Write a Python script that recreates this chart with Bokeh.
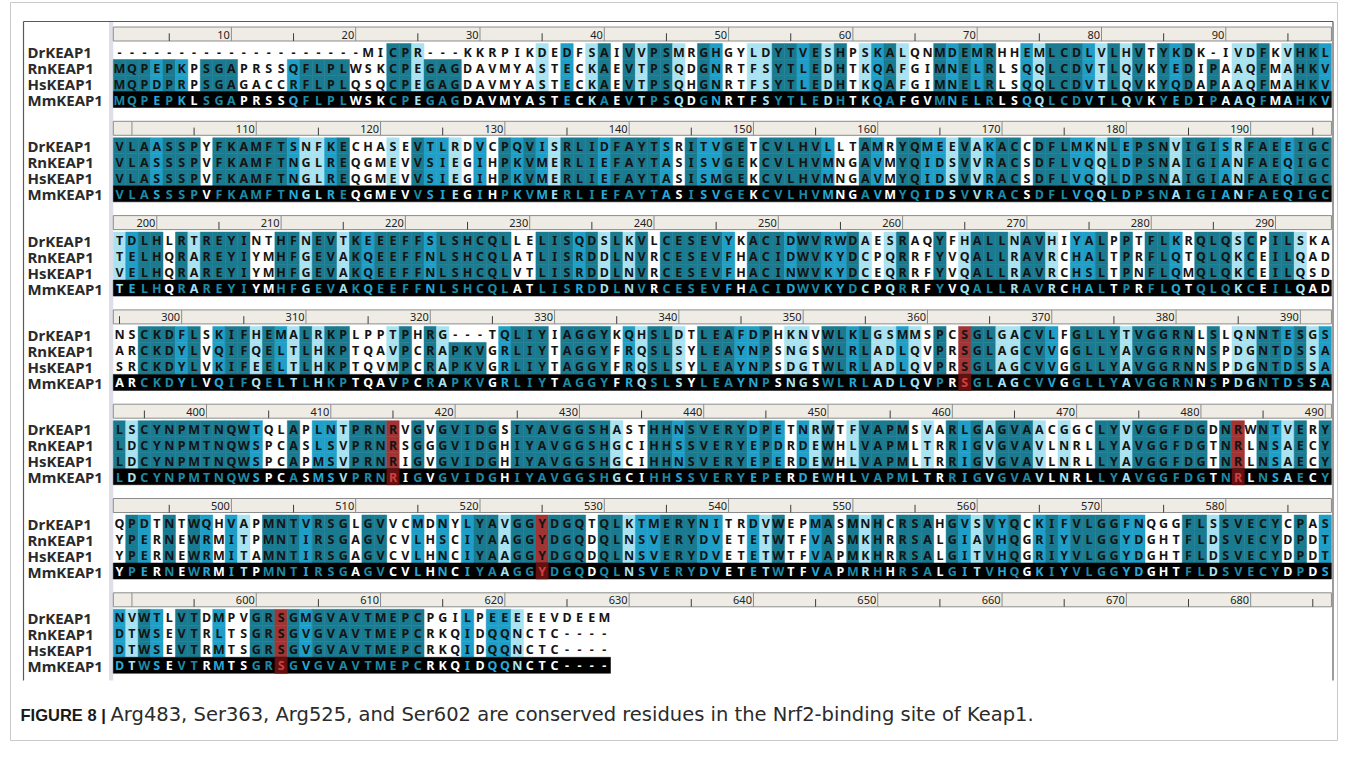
from collections import Counter
from bokeh.plotting import figure
from bokeh.models import Range1d, ColumnDataSource
from bokeh.core.properties import value
from bokeh.embed import file_html
from bokeh.resources import INLINE

# ---------------- data ----------------
species = ["DrKEAP1", "RnKEAP1", "HsKEAP1", "MmKEAP1"]

dr_blocks = [
    "--------------------MICPR---KKRPIKDEDFSAIVVPSMRGHGYLDYTVESHPSKALQNMDEMRHHEMLCDLVLHVTYKDK-IVDFKVHKL",
    "VLAASSPYFKAMFTSNFKECHASEVTLRDVCPQVISRLIDFAYTSRITVGETCVLHVLLTAMRYQMEEVAKACCDFLMKNLEPSNVIGISRFAEEIGC",
    "TDLHLRTREYINTHFNEVTKEEEFFSLSHCQLLELISQDSLKVLCESEVYKACIDWVRWDAESRAQYFHALLNAVHIYALPPTFLKRQLQSCPILSKA",
    "NSCKDFLSKIFHEMALRKPLPPTPHRG---TQLIYIAGGYKQHSLDTLEAFDPHKNVWLKLGSMMSPCSGLGACVLFGLLYTVGGRNLSLQNNTESGS",
    "LSCYNPMTNQWTQLAPLNTPRNRVGVGVIDGSIYAVGGSHASTHHNSVERYDPETNRWTFVAPMSVARLGAGVAACGGCLYVVGGFDGDNRWNTVERY",
    "QPDTNTWQHVAPMNTVRSGLGVVCMDNYLYAVGGYDGQTQLKTMERYNITRDVWEPMASMNHCRSAHGVSVYQCKIFVLGGFNQGGFLSSVECYCPAS",
    "NVWTLVTDMPVGRSGMGVAVTMEPCPGILPEEEEEVDEEM",
]
rn_blocks = [
    "MQPEPKPSGAPRSSQFLPLWSKCPEGAGDAVMYASTECKAEVTPSQDGNRTFSYTLEDHTKQAFGIMNELRLSQQLCDVTLQVKYEDIPAAQFMAHKV",
    "VLASSSPVFKAMFTNGLREQGMEVVSIEGIHPKVMERLIEFAYTASISVGEKCVLHVMNGAVMYQIDSVVRACSDFLVQQLDPSNAIGIANFAEQIGC",
    "TELHQRAREYIYMHFGEVAKQEEFFNLSHCQLATLISRDDLNVRCESEVFHACIDWVKYDCPQRRFYVQALLRAVRCHALTPRFLQTQLQKCEILQAD",
    "ARCKDYLVQIFQELTLHKPTQAVPCRAPKVGRLIYTAGGYFRQSLSYLEAYNPSNGSWLRLADLQVPRSGLAGCVVGGLLYAVGGRNNSPDGNTDSSA",
    "LDCYNPMTNQWSPCASLSVPRNRSGGGVIDGHIYAVGGSHGCIHHSSVERYEPDRDEWHLVAPMLTRRIGVGVAVLNRLLYAVGGFDGTNRLNSAECY",
    "YPERNEWRMITPMNTIRSGAGVCVLHSCIYAAGGYDGQDQLNSVERYDVETETWTFVASMKHRRSALGIAVHQGRIYVLGGYDGHTFLDSVECYDPDT",
    "DTWSEVTRLTSGRSGVGVAVTMEPCRKQIDQQNCTC----",
]
hs_blocks = [
    "MQPDPRPSGAGACCRFLPLQSQCPEGAGDAVMYASTECKAEVTPSQHGNRTFSYTLEDHTKQAFGIMNELRLSQQLCDVTLQVKYQDAPAAQFMAHKV",
    "VLASSSPVFKAMFTNGLREQGMEVVSIEGIHPKVMERLIEFAYTASISMGEKCVLHVMNGAVMYQIDSVVRACSDFLVQQLDPSNAIGIANFAEQIGC",
    "VELHQRAREYIYMHFGEVAKQEEFFNLSHCQLVTLISRDDLNVRCESEVFHACINWVKYDCEQRRFYVQALLRAVRCHSLTPNFLQMQLQKCEILQSD",
    "SRCKDYLVKIFEELTLHKPTQVMPCRAPKVGRLIYTAGGYFRQSLSYLEAYNPSDGTWLRLADLQVPRSGLAGCVVGGLLYAVGGRNNSPDGNTDSSA",
    "LDCYNPMTNQWSPCAPMSVPRNRIGVGVIDGHIYAVGGSHGCIHHNSVERYEPERDEWHLVAPMLTRRIGVGVAVLNRLLYAVGGFDGTNRLNSAECY",
    "YPERNEWRMITAMNTIRSGAGVCVLHNCIYAAGGYDGQDQLNSVERYDVETETWTFVAPMKHRRSALGITVHQGRIYVLGGYDGHTFLDSVECYDPDT",
    "DTWSEVTRMTSGRSGVGVAVTMEPCRKQIDQQNCTC----",
]
mm_blocks = [
    "MQPEPKLSGAPRSSQFLPLWSKCPEGAGDAVMYASTECKAEVTPSQDGNRTFSYTLEDHTKQAFGVMNELRLSQQLCDVTLQVKYEDIPAAQFMAHKV",
    "VLASSSPVFKAMFTNGLREQGMEVVSIEGIHPKVMERLIEFAYTASISVGEKCVLHVMNGAVMYQIDSVVRACSDFLVQQLDPSNAIGIANFAEQIGC",
    "TELHQRAREYIYMHFGEVAKQEEFFNLSHCQLATLISRDDLNVRCESEVFHACIDWVKYDCPQRRFYVQALLRAVRCHALTPRFLQTQLQKCEILQAD",
    "ARCKDYLVQIFQELTLHKPTQAVPCRAPKVGRLIYTAGGYFRQSLSYLEAYNPSNGSWLRLADLQVPRSGLAGCVVGGLLYAVGGRNNSPDGNTDSSA",
    "LDCYNPMTNQWSPCASMSVPRNRIGVGVIDGHIYAVGGSHGCIHHSSVERYEPERDEWHLVAPMLTRRIGVGVAVLNRLLYAVGGFDGTNRLNSAECY",
    "YPERNEWRMITPMNTIRSGAGVCVLHNCIYAAGGYDGQDQLNSVERYDVETETWTFVAPMRHHRSALGITVHQGKIYVLGGYDGHTFLDSVECYDPDS",
    "DTWSEVTRMTSGRSGVGVAVTMEPCRKQIDQQNCTC----",
]
highlight_cols = [363, 415, 483, 525, 602]
caption_bold = "FIGURE 8 |"
caption_text = "Arg483, Ser363, Arg525, and Ser602 are conserved residues in the Nrf2-binding site of Keap1."

# BLOSUM62 (used to grade the shading of each column)
AA = "ARNDCQEGHILKMFPSTWYV"
B62 = [
    [4, -1, -2, -2, 0, -1, -1, 0, -2, -1, -1, -1, -1, -2, -1, 1, 0, -3, -2, 0],
    [-1, 5, 0, -2, -3, 1, 0, -2, 0, -3, -2, 2, -1, -3, -2, -1, -1, -3, -2, -3],
    [-2, 0, 6, 1, -3, 0, 0, 0, 1, -3, -3, 0, -2, -3, -2, 1, 0, -4, -2, -3],
    [-2, -2, 1, 6, -3, 0, 2, -1, -1, -3, -4, -1, -3, -3, -1, 0, -1, -4, -3, -3],
    [0, -3, -3, -3, 9, -3, -4, -3, -3, -1, -1, -3, -1, -2, -3, -1, -1, -2, -2, -1],
    [-1, 1, 0, 0, -3, 5, 2, -2, 0, -3, -2, 1, 0, -3, -1, 0, -1, -2, -1, -2],
    [-1, 0, 0, 2, -4, 2, 5, -2, 0, -3, -3, 1, -2, -3, -1, 0, -1, -3, -2, -2],
    [0, -2, 0, -1, -3, -2, -2, 6, -2, -4, -4, -2, -3, -3, -2, 0, -2, -2, -3, -3],
    [-2, 0, 1, -1, -3, 0, 0, -2, 8, -3, -3, -1, -2, -1, -2, -1, -2, -2, 2, -3],
    [-1, -3, -3, -3, -1, -3, -3, -4, -3, 4, 2, -3, 1, 0, -3, -2, -1, -3, -1, 3],
    [-1, -2, -3, -4, -1, -2, -3, -4, -3, 2, 4, -2, 2, 0, -3, -2, -1, -2, -1, 1],
    [-1, 2, 0, -1, -3, 1, 1, -2, -1, -3, -2, 5, -1, -3, -1, 0, -1, -3, -2, -2],
    [-1, -1, -2, -3, -1, 0, -2, -3, -2, 1, 2, -1, 5, 0, -2, -1, -1, -1, -1, 1],
    [-2, -3, -3, -3, -2, -3, -3, -3, -1, 0, 0, -3, 0, 6, -4, -2, -2, 1, 3, -1],
    [-1, -2, -2, -1, -3, -1, -1, -2, -2, -3, -3, -1, -2, -4, 7, -1, -1, -4, -3, -2],
    [1, -1, 1, 0, -1, 0, 0, 0, -1, -2, -2, 0, -1, -2, -1, 4, 1, -3, -2, -2],
    [0, -1, 0, -1, -1, -1, -1, -2, -2, -1, -1, -1, -1, -2, -1, 1, 5, -2, -2, 0],
    [-3, -3, -4, -4, -2, -2, -3, -2, -2, -3, -2, -3, -1, 1, -4, -3, -2, 11, 2, -3],
    [-2, -2, -2, -3, -2, -1, -2, -3, 2, -1, -1, -2, -1, 3, -3, -2, -2, 2, 7, -1],
    [0, -3, -3, -3, -1, -2, -2, -3, -3, 3, 1, -2, 1, -1, -2, -2, 0, -3, -1, 4],
]


def blosum(a, b):
    return B62[AA.index(a)][AA.index(b)]


def column_level(residues):
    res = [r for r in residues if r != "-"]
    if len(res) < 2:
        return 0
    cons, k = Counter(res).most_common(1)[0]
    if k == len(res):
        return 3
    m = min(blosum(r, cons) for r in res if r != cons)
    if m >= 1:
        return 2
    if m == 0:
        return 1
    return 0


# ---------------- style / layout ----------------
BG = {1: "#a9e3f1", 2: "#1f9fc7", 3: "#1a7b90"}
MM_TXT = {0: "#ffffff", 1: "#a9e3f1", 2: "#26a9d9", 3: "#1d8aa6"}
RED_BG = "#a23434"
RED_BG_MM = "#641010"
RED_TXT_MM = "#d04040"

W, H = 1341, 742
CW = 12.43
SEQ_X0 = 120.8
N_COLS = 98
BLOCK_T0 = 34.5
BLOCK_PITCH = 94.3
RULER_H = 14.0
ROW_OFF = 16.5
ROW_H = 16.0
NAME_X = 35
FONT = "Noto Sans"


def block_top(b):
    return BLOCK_T0 + b * BLOCK_PITCH


def row_top(b, r):
    return block_top(b) + ROW_OFF + r * ROW_H


def col_left(j):
    return SEQ_X0 + j * CW


p = figure(width=W, height=H, x_range=Range1d(8, 8 + W), y_range=Range1d(8 + H, 8),
           output_backend="svg", toolbar_location=None, min_border=0)
p.axis.visible = False
p.grid.visible = False
p.outline_line_color = None
p.background_fill_color = "white"

# outer figure frame and screenshot panel edges
p.quad(left=[18], right=[1345], top=[10], bottom=[748], fill_alpha=0,
       line_color="#c9c9c9", line_width=1)
panel_bottom = 688
p.segment(x0=[31, 31, 1340.5], y0=[29, 29, 29], x1=[1340.5, 31, 1340.5],
          y1=[29, panel_bottom, panel_bottom], line_color="#5a5a5a", line_width=1.2)
p.quad(left=[116.5], right=[SEQ_X0], top=[29.5], bottom=[panel_bottom],
       fill_color="#dfdfe9", line_color=None)

cells = dict(l=[], r=[], t=[], b=[], c=[])
letters = dict(x=[], y=[], t=[], c=[])
mm_bg = dict(l=[], r=[], t=[], b=[], c=[])
names = dict(x=[], y=[], t=[])
ruler_bg = dict(l=[], r=[], t=[], b=[])
majors = dict(x0=[], y0=[], x1=[], y1=[])
minors = dict(x0=[], y0=[], x1=[], y1=[])
rlabels = dict(x=[], y=[], t=[])

rows_all = [dr_blocks, rn_blocks, hs_blocks, mm_blocks]

for b in range(len(dr_blocks)):
    seqs = [blk[b] for blk in rows_all]
    L = max(len(s) for s in seqs)
    seqs = [s.ljust(L, "-") for s in seqs]
    start = b * N_COLS + 1
    top = block_top(b)
    # ruler
    ruler_bg["l"].append(col_left(0))
    ruler_bg["r"].append(col_left(N_COLS))
    ruler_bg["t"].append(top)
    ruler_bg["b"].append(top + RULER_H)
    for j in range(N_COLS):
        a = start + j
        xc = col_left(j) + CW / 2
        if a % 10 == 0:
            majors["x0"].append(xc); majors["x1"].append(xc)
            majors["y0"].append(top); majors["y1"].append(top + RULER_H)
            if j >= 2:
                rlabels["x"].append(xc - 1.5)
                rlabels["y"].append(top + RULER_H / 2 + 0.5)
                rlabels["t"].append(str(a))
        elif a % 5 == 0:
            minors["x0"].append(xc); minors["x1"].append(xc)
            minors["y0"].append(top + RULER_H * 0.45); minors["y1"].append(top + RULER_H)
    # names
    for r, nm in enumerate(species):
        names["x"].append(NAME_X)
        names["y"].append(row_top(b, r) + ROW_H / 2 + 0.5)
        names["t"].append(nm)
    # Mm row black band
    mm_bg["l"].append(col_left(0)); mm_bg["r"].append(col_left(L))
    mm_bg["t"].append(row_top(b, 3)); mm_bg["b"].append(row_top(b, 3) + ROW_H)
    mm_bg["c"].append("#000000")
    # columns
    for j in range(L):
        a = start + j
        col = [s[j] for s in seqs]
        lvl = column_level(col)
        red = a in highlight_cols
        xc = col_left(j) + CW / 2
        for r in range(4):
            yt = row_top(b, r)
            gap = col[r] == "-"
            if r < 3:
                fill = None if gap else (RED_BG if red else BG.get(lvl))
                if fill:
                    cells["l"].append(col_left(j)); cells["r"].append(col_left(j + 1))
                    cells["t"].append(yt); cells["b"].append(yt + ROW_H)
                    cells["c"].append(fill)
                tc = "#141414"
            else:
                if red:
                    mm_bg["l"].append(col_left(j)); mm_bg["r"].append(col_left(j + 1))
                    mm_bg["t"].append(yt); mm_bg["b"].append(yt + ROW_H)
                    mm_bg["c"].append(RED_BG_MM)
                    tc = RED_TXT_MM
                else:
                    tc = "#ffffff" if gap else MM_TXT[lvl]
            letters["x"].append(xc)
            letters["y"].append(yt + ROW_H / 2 + 0.5)
            letters["t"].append(col[r])
            letters["c"].append(tc)

p.quad(left="l", right="r", top="t", bottom="b", source=ColumnDataSource(ruler_bg),
       fill_color="#eeece4", line_color="#8c8c8c", line_width=1)
p.segment(x0="x0", y0="y0", x1="x1", y1="y1", source=ColumnDataSource(majors),
          line_color="#8c8c8c", line_width=1)
p.segment(x0="x0", y0="y0", x1="x1", y1="y1", source=ColumnDataSource(minors),
          line_color="#3c3c3c", line_width=1)
p.text(x="x", y="y", text="t", source=ColumnDataSource(rlabels), text_align="right",
       text_baseline="middle", text_font=value(FONT), text_font_size="11px",
       text_color="#222222")

p.quad(left="l", right="r", top="t", bottom="b", fill_color="c", line_color="c",
       line_width=0.5, source=ColumnDataSource(cells))
p.quad(left="l", right="r", top="t", bottom="b", fill_color="c", line_color="c",
       line_width=0.5, source=ColumnDataSource(mm_bg))
p.text(x="x", y="y", text="t", text_color="c", source=ColumnDataSource(letters),
       text_align="center", text_baseline="middle", text_font=value(FONT),
       text_font_size="12.5px", text_font_style="bold")
p.text(x="x", y="y", text="t", source=ColumnDataSource(names), text_align="left",
       text_baseline="middle", text_font=value(FONT), text_font_size="15px",
       text_font_style="bold", text_color="#2a2a2a")

# caption
p.text(x=[28], y=[722], text=[caption_bold], text_align="left", text_baseline="middle",
       text_font=value("Liberation Sans"), text_font_size="16.5px",
       text_font_style="bold", text_color="#1a1a1a")
p.text(x=[118], y=[722], text=[caption_text], text_align="left", text_baseline="middle",
       text_font=value("DejaVu Sans"), text_font_size="19.5px", text_color="#2b2b2b")

open("out.html", "w").write(file_html(p, INLINE))
